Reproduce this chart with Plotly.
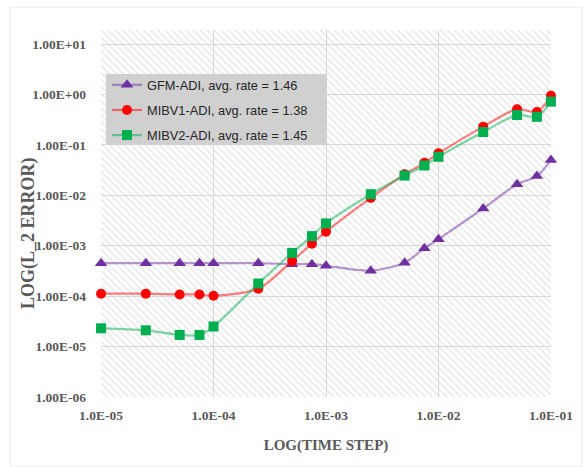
import plotly.graph_objects as go

# ---- data ----
time_step = [1e-5, 2.5e-5, 5e-5, 7.5e-5, 1e-4, 2.5e-4, 5e-4, 7.5e-4, 1e-3,
             2.5e-3, 5e-3, 7.5e-3, 1e-2, 2.5e-2, 5e-2, 7.5e-2, 1e-1]
gfm_adi = [4.5e-4, 4.5e-4, 4.5e-4, 4.5e-4, 4.5e-4, 4.5e-4, 4.3e-4, 4.3e-4, 4.0e-4,
           3.2e-4, 4.6e-4, 8.9e-4, 1.35e-3, 5.5e-3, 1.66e-2, 2.4e-2, 5.0e-2]
mibv1_adi = [1.12e-4, 1.12e-4, 1.08e-4, 1.08e-4, 1.02e-4, 1.4e-4, 5.0e-4, 1.1e-3, 1.9e-3,
             8.9e-3, 2.6e-2, 4.4e-2, 6.8e-2, 2.3e-1, 5.1e-1, 4.5e-1, 9.4e-1]
mibv2_adi = [2.3e-5, 2.1e-5, 1.7e-5, 1.7e-5, 2.5e-5, 1.78e-4, 7.2e-4, 1.55e-3, 2.77e-3,
             1.05e-2, 2.46e-2, 3.9e-2, 5.8e-2, 1.8e-1, 3.9e-1, 3.6e-1, 7.2e-1]
series_names = ["GFM-ADI, avg. rate = 1.46",
                "MIBV1-ADI, avg. rate = 1.38",
                "MIBV2-ADI, avg. rate = 1.45"]

x_tickvals = [1e-5, 1e-4, 1e-3, 1e-2, 1e-1]
x_ticktext = ["1.0E-05", "1.0E-04", "1.0E-03", "1.0E-02", "1.0E-01"]
y_tickvals = [1e1, 1e0, 1e-1, 1e-2, 1e-3, 1e-4, 1e-5, 1e-6]
y_ticktext = ["1.00E+01", "1.00E+00", "1.00E-01", "1.00E-02",
              "1.00E-03", "1.00E-04", "1.00E-05", "1.00E-06"]

X_RANGE = [-5.0005, -0.9995]
Y_RANGE = [-6, 1.278]

# ---- layout helpers (pixel -> paper) ----
L, R, T, B, W, H = 101, 34, 30, 70, 585, 467
PW, PH = W - L - R, H - T - B


def px(x):
    return (x - L) / PW


def py(y):
    return (H - B - y) / PH


# ---- styles ----
styles = [
    dict(line="rgba(112,48,160,0.5)", marker="#7030a0", symbol="triangle-up", size=11),
    dict(line="rgba(255,0,0,0.5)", marker="#ff0000", symbol="circle", size=10),
    dict(line="rgba(0,176,80,0.5)", marker="#00b050", symbol="square", size=10),
]

fig = go.Figure()

# hatched plot-area background
x0, x1 = 10 ** X_RANGE[0], 10 ** X_RANGE[1]
y0, y1 = 10 ** Y_RANGE[0], 10 ** Y_RANGE[1]
fig.add_trace(go.Scatter(
    x=[x0, x1, x1, x0, x0], y=[y0, y0, y1, y1, y0],
    mode="lines", line=dict(width=0), fill="toself",
    fillcolor="rgba(0,0,0,0)",
    fillpattern=dict(shape="\\", fgcolor="#d0d0d0", size=5, solidity=0.3),
    hoverinfo="skip", showlegend=False,
))

for i, (name, vals, st) in enumerate(zip(series_names, [gfm_adi, mibv1_adi, mibv2_adi], styles)):
    fig.add_trace(go.Scatter(
        x=time_step, y=vals, name=name, legendgroup=f"g{i}",
        mode="lines+markers",
        line=dict(color=st["line"], width=2.2, shape="spline", smoothing=0.8),
        marker=dict(color=st["marker"], symbol=st["symbol"], size=st["size"]),
        cliponaxis=False,
    ))

tick_font = dict(family="Liberation Serif", size=13.5, color="#595959", weight="bold")
title_font = dict(family="Liberation Serif", size=15, color="#595959", weight="bold")

fig.update_layout(
    width=W, height=H,
    margin=dict(l=L, r=R, t=T, b=B),
    paper_bgcolor="white", plot_bgcolor="white",
    showlegend=True,
    legend=dict(
        x=px(107), y=py(70), xanchor="left", yanchor="top",
        bgcolor="rgba(0,0,0,0)", borderwidth=0,
        font=dict(family="Liberation Sans", size=12.8, color="#262626"),
        tracegroupgap=5.5, traceorder="grouped", itemwidth=30,
    ),
    xaxis=dict(
        type="log", range=X_RANGE, tickvals=x_tickvals, ticktext=x_ticktext,
        showgrid=True, gridcolor="#d9d9d9", gridwidth=1, zeroline=False,
        showline=False, ticks="", tickfont=tick_font, ticklabelstandoff=8,
        title=dict(text="LOG(TIME STEP)", font=title_font, standoff=17),
    ),
    yaxis=dict(
        type="log", range=Y_RANGE, tickvals=y_tickvals, ticktext=y_ticktext,
        showgrid=True, gridcolor="#d9d9d9", gridwidth=1, zeroline=False,
        showline=False, ticks="", tickfont=tick_font, ticklabelstandoff=14,
    ),
    annotations=[dict(
        text="LOG(L_2 ERROR)", xref="paper", yref="paper",
        x=px(28), y=py(233), xanchor="center", yanchor="middle",
        textangle=-90, showarrow=False,
        font=dict(family="Liberation Serif", size=18, color="#595959", weight="bold"),
    )],
    shapes=[
        dict(type="rect", xref="paper", yref="paper",
             x0=px(10), x1=px(582), y0=py(466), y1=py(7),
             line=dict(color="#ececec", width=1), layer="below"),
        dict(type="rect", xref="paper", yref="paper",
             x0=px(106), x1=px(327), y0=py(145), y1=py(74),
             fillcolor="#d0d0d0", line=dict(width=0), layer="above"),
    ],
)

fig.write_html("out.html")
